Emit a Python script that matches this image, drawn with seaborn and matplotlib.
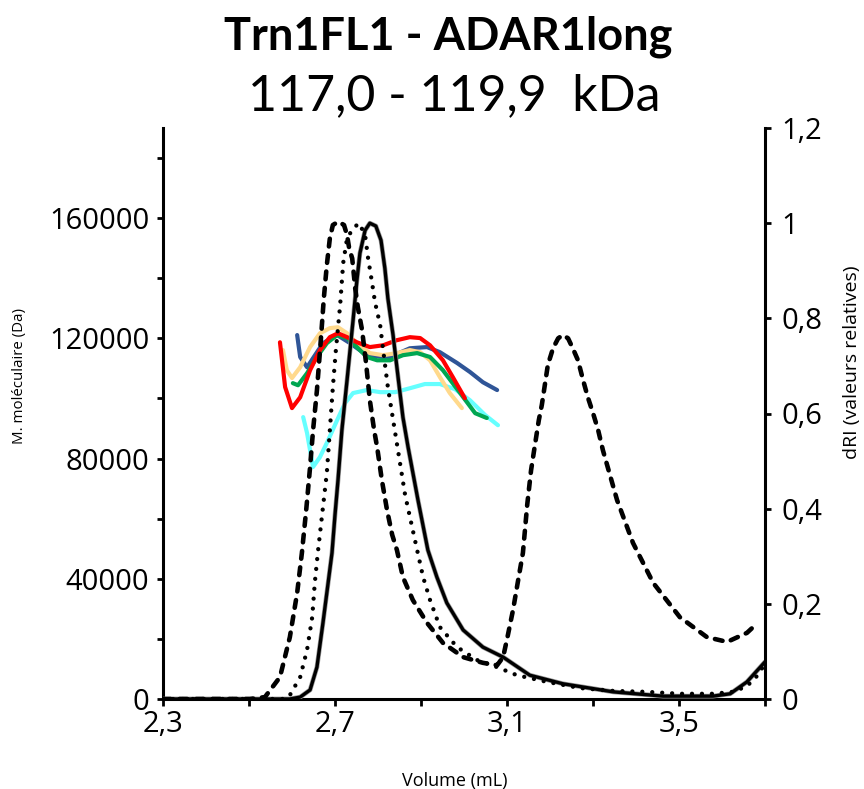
import numpy as np
import pandas as pd
import matplotlib
matplotlib.use("Agg")
import matplotlib.pyplot as plt
import seaborn as sns
from matplotlib.ticker import FixedLocator, FixedFormatter

# ---------------- data ----------------
# dRI traces (relative values, right axis)
dashed_vol = [2.300, 2.502, 2.537, 2.572, 2.595, 2.612, 2.623, 2.633, 2.642, 2.649, 2.658, 2.667, 2.674,
              2.681, 2.688, 2.695, 2.707, 2.714, 2.721, 2.728, 2.733, 2.740, 2.747, 2.753, 2.763, 2.772,
              2.781, 2.791, 2.798, 2.809, 2.821, 2.833, 2.844, 2.858, 2.881, 2.914, 2.951, 2.998, 3.044,
              3.077, 3.091, 3.102, 3.114, 3.126, 3.137, 3.147, 3.156, 3.165, 3.174, 3.181, 3.188, 3.195,
              3.207, 3.219, 3.230, 3.242, 3.253, 3.265, 3.277, 3.288, 3.300, 3.312, 3.323, 3.356, 3.393,
              3.440, 3.502, 3.565, 3.612, 3.658, 3.677]
dashed_dri = [0.000, 0.000, 0.004, 0.046, 0.130, 0.223, 0.307, 0.397, 0.487, 0.565, 0.649, 0.754, 0.842,
              0.912, 0.968, 0.996, 1.003, 1.000, 0.996, 0.975, 0.947, 0.926, 0.863, 0.824, 0.775, 0.708,
              0.628, 0.565, 0.529, 0.460, 0.397, 0.345, 0.313, 0.256, 0.208, 0.160, 0.118, 0.088, 0.076,
              0.071, 0.088, 0.134, 0.187, 0.250, 0.307, 0.408, 0.481, 0.534, 0.586, 0.618, 0.660, 0.702,
              0.737, 0.758, 0.765, 0.758, 0.737, 0.712, 0.670, 0.634, 0.601, 0.565, 0.523, 0.418, 0.328,
              0.244, 0.172, 0.130, 0.120, 0.139, 0.155]

dotted_vol = [2.300, 2.584, 2.595, 2.619, 2.635, 2.647, 2.653, 2.660, 2.670, 2.681, 2.688, 2.695, 2.702,
              2.712, 2.719, 2.728, 2.742, 2.756, 2.770, 2.777, 2.786, 2.793, 2.805, 2.812, 2.823, 2.840,
              2.863, 2.891, 2.905, 2.921, 2.944, 2.984, 3.030, 3.077, 3.123, 3.193, 3.270, 3.347, 3.426,
              3.502, 3.579, 3.626, 3.658, 3.681, 3.700]
dotted_dri = [0.000, 0.000, 0.008, 0.046, 0.103, 0.172, 0.244, 0.307, 0.387, 0.475, 0.565, 0.655, 0.733,
              0.828, 0.916, 0.968, 0.989, 1.000, 0.975, 0.926, 0.876, 0.834, 0.786, 0.733, 0.655, 0.559,
              0.429, 0.313, 0.256, 0.208, 0.151, 0.109, 0.082, 0.067, 0.050, 0.036, 0.023, 0.017, 0.015,
              0.011, 0.011, 0.015, 0.027, 0.048, 0.074]

solid_vol = [2.300, 2.595, 2.619, 2.642, 2.658, 2.672, 2.684, 2.693, 2.700, 2.707, 2.716, 2.728, 2.735,
             2.742, 2.751, 2.758, 2.770, 2.781, 2.795, 2.807, 2.816, 2.823, 2.835, 2.847, 2.858, 2.870,
             2.893, 2.916, 2.937, 2.960, 2.998, 3.044, 3.091, 3.153, 3.230, 3.347, 3.463, 3.579, 3.619,
             3.658, 3.700]
solid_dri = [0.000, 0.000, 0.004, 0.019, 0.067, 0.160, 0.244, 0.307, 0.387, 0.460, 0.565, 0.670, 0.733,
             0.796, 0.880, 0.937, 0.985, 1.000, 0.994, 0.964, 0.905, 0.842, 0.765, 0.674, 0.592, 0.529,
             0.418, 0.313, 0.256, 0.202, 0.145, 0.109, 0.088, 0.050, 0.032, 0.015, 0.006, 0.006, 0.011,
             0.036, 0.078]

# molar mass traces (Da, left axis)
red_vol = [2.572, 2.584, 2.600, 2.619, 2.642, 2.665, 2.688, 2.707, 2.728, 2.751, 2.781, 2.812, 2.844,
           2.874, 2.898, 2.921, 2.951, 2.974, 3.002]
red_mw = [118700, 103800, 96800, 100400, 109400, 116100, 120400, 121700, 120400, 118700, 117100, 117700,
          119400, 120400, 120100, 117700, 112700, 107100, 100100]

yellow_vol = [2.579, 2.588, 2.600, 2.619, 2.642, 2.665, 2.688, 2.707, 2.728, 2.751, 2.781,
              2.812, 2.844, 2.874, 2.898, 2.921, 2.944, 2.967, 2.995]
yellow_mw = [116100, 109400, 106800, 110400, 117100, 121700, 123400, 123700, 121700, 118400, 115100,
             114400, 115100, 116100, 115400, 112700, 107100, 101800, 96800]

green_vol = [2.602, 2.614, 2.635, 2.658, 2.681, 2.705, 2.728, 2.751, 2.774, 2.798, 2.828, 2.858, 2.891,
             2.921, 2.951, 2.991, 3.026, 3.053]
green_mw = [105100, 104400, 108400, 113800, 118400, 121100, 120100, 117100, 113800, 112700, 112700,
            114400, 115100, 113800, 109400, 101800, 95100, 93500]

blue_vol = [2.612, 2.619, 2.635, 2.672, 2.705, 2.735, 2.774, 2.812, 2.828, 2.874, 2.914, 2.944, 2.984,
            3.014, 3.044, 3.077]
blue_mw = [121100, 113800, 110400, 118400, 121100, 118400, 114400, 113800, 113800, 116700, 117100,
           115400, 111800, 108800, 105400, 102800]

cyan_vol = [2.626, 2.635, 2.642, 2.649, 2.665, 2.684, 2.705, 2.723, 2.742, 2.774, 2.805, 2.840, 2.874,
            2.909, 2.944, 2.979, 3.014, 3.049, 3.079]
cyan_mw = [93800, 88500, 82800, 77200, 80500, 86100, 92800, 98400, 101800, 102800, 102100, 102100,
           103400, 104800, 104800, 103100, 99400, 94500, 91100]

x_ticks = [2.3, 2.5, 2.7, 2.9, 3.1, 3.3, 3.5, 3.7]
x_labels = ["2,3", "", "2,7", "", "3,1", "", "3,5", ""]
mw_ticks = [0, 20000, 40000, 60000, 80000, 100000, 120000, 140000, 160000, 180000]
mw_labels = ["0", "", "40000", "", "80000", "", "120000", "", "160000", ""]
dri_ticks = [0, 0.2, 0.4, 0.6, 0.8, 1.0, 1.2]
dri_labels = ["0", "0,2", "0,4", "0,6", "0,8", "1", "1,2"]

title = "Trn1FL1 - ADAR1long"
subtitle = "117,0 - 119,9  kDa"

# ---------------- plotting ----------------
sns.set_theme(style="white")
plt.rcParams["font.family"] = ["Open Sans", "DejaVu Sans"]
plt.rcParams["text.color"] = "black"
plt.rcParams["axes.labelcolor"] = "black"
plt.rcParams["xtick.color"] = "black"
plt.rcParams["ytick.color"] = "black"

fig = plt.figure(figsize=(8.64, 7.89), dpi=100)
ax = fig.add_axes([163 / 864, 1 - 699 / 789, (765 - 163) / 864, (699 - 128) / 789])
ax2 = ax.twinx()

mw_series = [(red_vol, red_mw, "#FF0000"), (yellow_vol, yellow_mw, "#FFD98C"),
             (blue_vol, blue_mw, "#2F5597"), (green_vol, green_mw, "#00A651"),
             (cyan_vol, cyan_mw, "#66FFFF")]
order = [4, 2, 1, 3, 0]
for i in order:
    v, m, c = mw_series[i]
    df = pd.DataFrame({"v": v, "m": m})
    sns.lineplot(data=df, x="v", y="m", ax=ax, color=c, lw=3.0, sort=False,
                 estimator=None, solid_capstyle="round", solid_joinstyle="round")

df_s = pd.DataFrame({"v": solid_vol, "r": solid_dri})
sns.lineplot(data=df_s, x="v", y="r", ax=ax2, color="#9a9a9a", lw=3.4, sort=False, estimator=None,
             solid_joinstyle="round")
sns.lineplot(data=df_s, x="v", y="r", ax=ax2, color="black", lw=2.4, sort=False, estimator=None,
             solid_joinstyle="round")

df_d = pd.DataFrame({"v": dotted_vol, "r": dotted_dri})
sns.lineplot(data=df_d, x="v", y="r", ax=ax2, color="black", lw=3.1, sort=False, estimator=None)
ln = ax2.lines[-1]
ln.set_linestyle((0, (0.01, 2.3)))
ln.set_dash_capstyle("round")

df_dash = pd.DataFrame({"v": dashed_vol, "r": dashed_dri})
sns.lineplot(data=df_dash, x="v", y="r", ax=ax2, color="black", lw=3.3, sort=False, estimator=None)
ln = ax2.lines[-1]
ln.set_linestyle((0, (1.7, 1.9)))
ln.set_dash_capstyle("round")

ax.set_xlim(2.3, 3.7)
ax.set_ylim(0, 190000)
ax2.set_ylim(0, 1.2)

ax.xaxis.set_major_locator(FixedLocator(x_ticks))
ax.xaxis.set_major_formatter(FixedFormatter(x_labels))
ax.yaxis.set_major_locator(FixedLocator(mw_ticks))
ax.yaxis.set_major_formatter(FixedFormatter(mw_labels))
ax2.yaxis.set_major_locator(FixedLocator(dri_ticks))
ax2.yaxis.set_major_formatter(FixedFormatter(dri_labels))

for a in (ax, ax2):
    a.set_xlabel("")
    a.set_ylabel("")
    for s in a.spines.values():
        s.set_visible(False)
ax.spines["left"].set_visible(True)
ax.spines["bottom"].set_visible(True)
ax2.spines["right"].set_visible(True)
for s in [ax.spines["left"], ax.spines["bottom"], ax2.spines["right"]]:
    s.set_color("black")
    s.set_linewidth(2.2)

ax.tick_params(axis="x", direction="out", length=5, width=2, colors="black", labelsize=21, pad=3,
               bottom=True)
ax.tick_params(axis="y", direction="out", length=4, width=2, colors="black", labelsize=21, pad=6,
               left=True)
ax2.tick_params(axis="y", direction="out", length=4, width=2, colors="black", labelsize=21, pad=8,
                right=True)
ax.grid(False)
ax2.grid(False)

fig.text(20 / 864, 1 - 376 / 789, "M. moléculaire (Da)", rotation=90, ha="center", va="center",
         fontsize=10.8)
fig.text(852 / 864, 1 - 362 / 789, "dRI (valeurs relatives)", rotation=90, ha="center", va="center",
         fontsize=14)
fig.text(455 / 864, 1 - 786 / 789, "Volume (mL)", ha="center", va="baseline", fontsize=13)

fig.text(448 / 864, 1 - 50 / 789, title, ha="center", va="baseline", fontsize=32.5, fontweight="bold",
         family=["Lato", "DejaVu Sans"])
fig.text(454 / 864, 1 - 110 / 789, subtitle, ha="center", va="baseline", fontsize=36,
         family=["Lato", "DejaVu Sans"])

fig.savefig("out.png", dpi=100)
